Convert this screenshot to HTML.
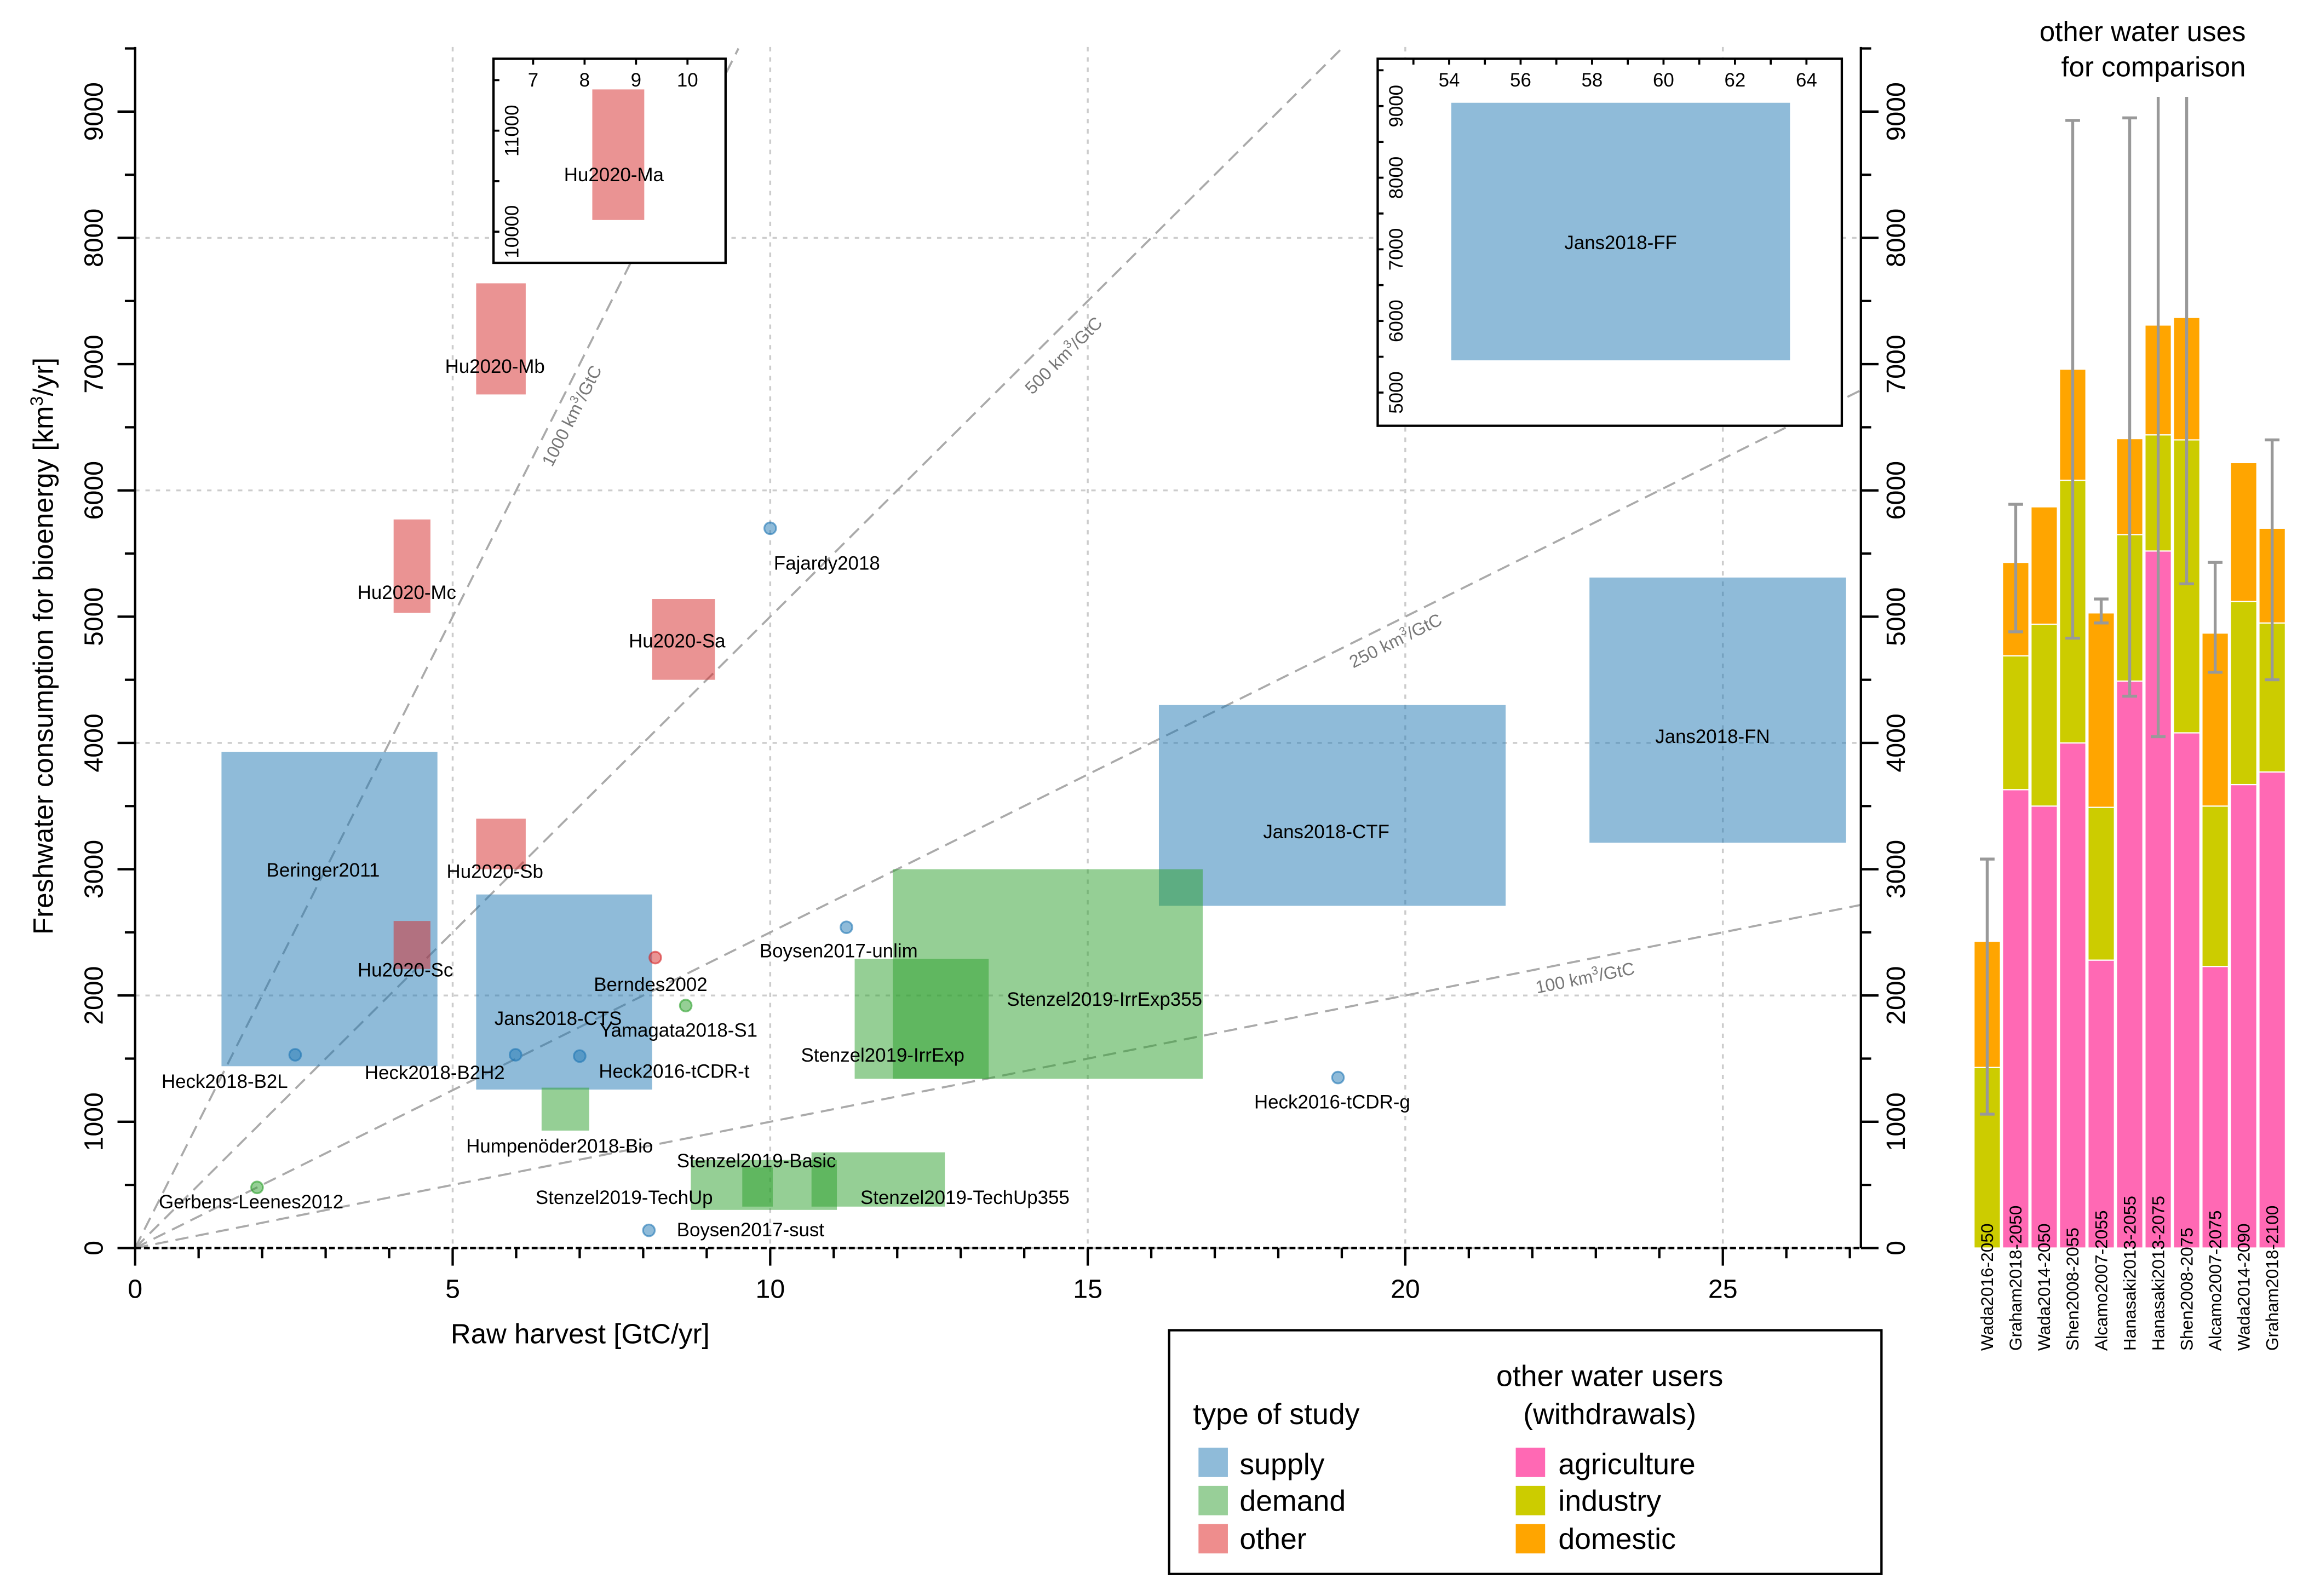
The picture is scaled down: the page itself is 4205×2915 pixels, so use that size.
<!DOCTYPE html>
<html><head><meta charset="utf-8"><style>
html,body{margin:0;padding:0;background:#fff}
svg{display:block;font-family:"Liberation Sans",sans-serif}
</style></head><body>
<svg id="fig" xmlns="http://www.w3.org/2000/svg" width="4205" height="2915" viewBox="0 0 1568 1087" preserveAspectRatio="none">
<defs>
<clipPath id="mainclip"><rect x="92" y="32" width="1175" height="818"/></clipPath>
<clipPath id="barclip"><rect x="1330" y="66" width="240" height="800"/></clipPath>
</defs>
<g id="main"></g>
<g id="bars"></g>
<g id="legend">
<rect x="796" y="906" width="485" height="166" fill="#fff" stroke="#000" stroke-width="1.6"/>
<text x="869" y="970" font-size="20" text-anchor="middle">type of study</text>
<text x="1096" y="944" font-size="20" text-anchor="middle">other water users</text>
<text x="1096" y="970" font-size="20" text-anchor="middle">(withdrawals)</text>
<g><rect x="816" y="986" width="20" height="20" fill="#8fbbd9"/><text x="844" y="1004" font-size="20">supply</text></g>
<g><rect x="816" y="1012" width="20" height="20" fill="#98cf98"/><text x="844" y="1029" font-size="20">demand</text></g>
<g><rect x="816" y="1038" width="20" height="20" fill="#ee8d8d"/><text x="844" y="1055" font-size="20">other</text></g>
<g><rect x="1032" y="986" width="20" height="20" fill="#ff69b4"/><text x="1061" y="1004" font-size="20">agriculture</text></g>
<g><rect x="1032" y="1012" width="20" height="20" fill="#cccc00"/><text x="1061" y="1029" font-size="20">industry</text></g>
<g><rect x="1032" y="1038" width="20" height="20" fill="#ffa500"/><text x="1061" y="1055" font-size="20">domestic</text></g>
</g>
</svg>
<script>
// ---------- scatter data ----------
const rectNames = ["Beringer2011","Jans2018-CTS","Jans2018-CTF","Jans2018-FN","Hu2020-Mb","Hu2020-Mc","Hu2020-Sa","Hu2020-Sb","Hu2020-Sc","Stenzel2019-IrrExp355","Stenzel2019-IrrExp","Humpenöder2018-Bio","Stenzel2019-TechUp","Stenzel2019-Basic","Stenzel2019-TechUp355"];
const rectType = ["supply","supply","supply","supply","other","other","other","other","other","demand","demand","demand","demand","demand","demand"];
const rectX0 = [1.36,5.37,16.12,22.9,5.37,4.07,8.14,5.37,4.07,11.93,11.33,6.4,8.75,9.56,10.65];
const rectX1 = [4.76,8.14,21.58,26.94,6.15,4.65,9.13,6.15,4.65,16.81,13.44,7.15,11.05,10.04,12.75];
const rectY0 = [1440,1255,2710,3210,6760,5030,4500,3000,2210,1340,1340,930,302,328,328];
const rectY1 = [3930,2800,4300,5310,7640,5770,5140,3400,2590,3000,2290,1270,697,638,758];
const rectLabelXY = [[220,597],[380,698],[903,571],[1166,506],[337,254],[277,408],[461,441],[337,598],[276,665],[752,685],[601,723],[381,785],[425,820],[515,795],[657,820]];

const ptNames = ["Fajardy2018","Boysen2017-unlim","Berndes2002","Yamagata2018-S1","Heck2018-B2L","Heck2018-B2H2","Heck2016-tCDR-t","Heck2016-tCDR-g","Gerbens-Leenes2012","Boysen2017-sust"];
const ptType = ["supply","supply","other","demand","supply","supply","supply","supply","demand","supply"];
const ptX = [10.0,11.2,8.19,8.67,2.52,5.99,7.0,18.94,1.92,8.09];
const ptY = [5700,2540,2300,1920,1530,1530,1520,1350,480,140];
const ptLabelXY = [[563,388],[571,652],[443,675],[462,706],[153,741],[296,735],[459,734],[907,755],[171,823],[511,842]];

const slopes = [1000,500,250,100];
const slopeLabelXY = [[393,285,-63],[727,245,-45],[952,440,-26.4],[1080,670,-11.2]];

const xTicks = [0,5,10,15,20,25];
const yTicks = [0,1000,2000,3000,4000,5000,6000,7000,8000,9000];

// inset data
const insetAName = "Hu2020-Ma", insetAX = [8.15,9.16], insetAY = [10116,11408];
const insetAXTicks = [7,8,9,10], insetAYTicks = [10000,11000];
const insetBName = "Jans2018-FF", insetBX = [54.06,63.54], insetBY = [5450,9046];
const insetBXTicks = [54,56,58,60,62,64], insetBYTicks = [5000,6000,7000,8000,9000];

// ---------- bar data ----------
const barNames = ["Wada2016-2050","Graham2018-2050","Wada2014-2050","Shen2008-2055","Alcamo2007-2055","Hanasaki2013-2055","Hanasaki2013-2075","Shen2008-2075","Alcamo2007-2075","Wada2014-2090","Graham2018-2100"];
const agriculture = [0,3630,3500,4000,2280,4490,5520,4080,2230,3670,3770];
const industry = [1430,1060,1440,2080,1210,1160,920,2320,1270,1450,1180];
const domestic = [1000,740,930,880,1540,760,870,970,1370,1100,750];
const errLow = [1060,4880,null,4830,4950,4370,4050,5260,4560,null,4500];
const errHigh = [3080,5890,null,8930,5140,8950,9800,9800,5430,null,6400];

// ---------- helpers ----------
const NS="http://www.w3.org/2000/svg";
function mk(tag,attrs,parent,txt){const e=document.createElementNS(NS,tag);for(const k in attrs)e.setAttribute(k,attrs[k]);if(txt!==undefined)e.textContent=txt;parent.appendChild(e);return e;}
const X=v=>92+v*43.24, Y=v=>850-v*0.086;
const fillC={supply:"#1f77b4",demand:"#2ca02c",other:"#d62728"};
const main=document.getElementById('main');
const bars=document.getElementById('bars');

// grid
const grid=mk('g',{},main);


[5,10,15,20,25].forEach(v=>mk('line',{x1:X(v),x2:X(v),y1:32,y2:850,stroke:"#ccc","stroke-width":1.3,"stroke-dasharray":"3,4"},grid));
[0,2000,4000,6000,8000].forEach(v=>mk('line',{x1:92,x2:1267,y1:Y(v),y2:Y(v),stroke:"#ccc","stroke-width":1.3,"stroke-dasharray":"3,4"},grid));

const clipG=mk('g',{"clip-path":"url(#mainclip)"},main);
// slope lines
slopes.forEach((s,i)=>{
  const xe=Math.min(28,9500/s);
  const l=mk('line',{x1:X(0),y1:Y(0),x2:X(xe),y2:Y(s*xe),stroke:"#aaa","stroke-width":1.4,"stroke-dasharray":"9,5"},clipG);
  
  
  const [lx,ly,a]=slopeLabelXY[i];
  const t=mk('text',{x:lx,y:ly,"font-size":12,fill:"#777","text-anchor":"middle",transform:`rotate(${a} ${lx} ${ly})`},main);
  t.innerHTML=s+' km<tspan dy="-5" font-size="8">3</tspan><tspan dy="5">/GtC</tspan>';
  
  
});
// rects
rectNames.forEach((n,i)=>{
  const r=mk('rect',{x:X(rectX0[i]),y:Y(rectY1[i]),width:X(rectX1[i])-X(rectX0[i]),height:Y(rectY0[i])-Y(rectY1[i]),fill:fillC[rectType[i]],"fill-opacity":0.5},clipG);
  
  
});
rectNames.forEach((n,i)=>{
  const t=mk('text',{x:rectLabelXY[i][0],y:rectLabelXY[i][1],"font-size":13,"text-anchor":"middle"},main,n);
  
  
});
// points
ptNames.forEach((n,i)=>{
  const c=mk('circle',{cx:X(ptX[i]),cy:Y(ptY[i]),r:4,fill:fillC[ptType[i]],"fill-opacity":0.5,stroke:fillC[ptType[i]],"stroke-opacity":0.6,"stroke-width":1.2},main);
  
  
  const t=mk('text',{x:ptLabelXY[i][0],y:ptLabelXY[i][1],"font-size":13,"text-anchor":"middle"},main,n);
  
  
});
// axes
const ax=mk('g',{stroke:"#000","stroke-width":1.6},main);


mk('line',{x1:92,x2:92,y1:32,y2:850},ax);
mk('line',{x1:1267,x2:1267,y1:32,y2:850},ax);
mk('line',{x1:92,x2:1267,y1:850,y2:850,"stroke-dasharray":"4,2"},ax);
for(let v=0;v<=27;v++){mk('line',{x1:X(v),x2:X(v),y1:850,y2:v%5==0?862:857},ax);}
for(let v=0;v<=9500;v+=500){
  const big=v%1000==0;
  mk('line',{x1:92,x2:big?80:85,y1:Y(v),y2:Y(v)},ax);
  mk('line',{x1:1267,x2:big?1279:1274,y1:Y(v),y2:Y(v)},ax);
}
xTicks.forEach(v=>{const t=mk('text',{x:X(v),y:884,"font-size":18,"text-anchor":"middle"},main,v);});
yTicks.forEach(v=>{
  const t=mk('text',{x:70,y:Y(v),"font-size":18,"text-anchor":"middle",transform:`rotate(-90 70 ${Y(v)})`},main,v);
  
  
  const t2=mk('text',{x:1297,y:Y(v),"font-size":18,"text-anchor":"middle",transform:`rotate(-90 1297 ${Y(v)})`},main,v);
  
  
});
let tt=mk('text',{x:395,y:915,"font-size":19,"text-anchor":"middle"},main,"Raw harvest [GtC/yr]");


tt=mk('text',{x:36,y:440,"font-size":19,"text-anchor":"middle",transform:"rotate(-90 36 440)"},main);
tt.innerHTML='Freshwater consumption for bioenergy [km<tspan dy="-7" font-size="12">3</tspan><tspan dy="7">/yr]</tspan>';



// insets
function inset(name,bx0,by0,bx1,by1,xr,yr,xt,yt,xMinorStep,yMinorStep,rx,ry,col,labelName,lblDx,lblDy){
  const g=mk('g',{},main);
  
  
  mk('rect',{x:bx0,y:by0,width:bx1-bx0,height:by1-by0,fill:"#fff"},g);
  const ix=v=>bx0+(v-xr[0])/(xr[1]-xr[0])*(bx1-bx0);
  const iy=v=>by1-(v-yr[0])/(yr[1]-yr[0])*(by1-by0);
  const r=mk('rect',{x:ix(rx[0]),y:iy(ry[1]),width:ix(rx[1])-ix(rx[0]),height:iy(ry[0])-iy(ry[1]),fill:col,"fill-opacity":0.5},g);
  
  
  mk('text',{x:(ix(rx[0])+ix(rx[1]))/2+lblDx,y:(iy(ry[0])+iy(ry[1]))/2+lblDy,"font-size":13,"text-anchor":"middle"},g,labelName);
  for(let v=Math.ceil(xr[0]/xMinorStep)*xMinorStep;v<=xr[1];v+=xMinorStep){mk('line',{x1:ix(v),x2:ix(v),y1:by0,y2:by0+4,stroke:"#000","stroke-width":1.4},g);}
  for(let v=Math.ceil(yr[0]/yMinorStep)*yMinorStep;v<=yr[1];v+=yMinorStep){mk('line',{x1:bx0,x2:bx0+4,y1:iy(v),y2:iy(v),stroke:"#000","stroke-width":1.4},g);}
  xt.forEach(v=>mk('text',{x:ix(v),y:by0+19,"font-size":13,"text-anchor":"middle"},g,v));
  yt.forEach(v=>mk('text',{x:bx0+17,y:iy(v),"font-size":13,"text-anchor":"middle",transform:`rotate(-90 ${bx0+17} ${iy(v)})`},g,v));
  mk('rect',{x:bx0,y:by0,width:bx1-bx0,height:by1-by0,fill:"none",stroke:"#000","stroke-width":1.6},g);
}
inset('inset-hu2020-ma',336,40,494,179,[6.23,10.74],[9692,11712],insetAXTicks,insetAYTicks,1,500,insetAX,insetAY,"#d62728",insetAName,-3,18);
inset('inset-jans2018-ff',938,40,1254,290,[52.0,64.99],[4536,9661],insetBXTicks,insetBYTicks,1,500,insetBX,insetBY,"#1f77b4",insetBName,0,12);

// ---------- bars ----------
const bcl=mk('g',{"clip-path":"url(#barclip)"},bars);
barNames.forEach((n,i)=>{
  const x=1344+i*19.4, w=18;
  const a=agriculture[i], b=a+industry[i], c=b+domestic[i];
  const segs=[[0,a,"#ff69b4","agriculture"],[a,b,"#cccc00","industry"],[b,c,"#ffa500","domestic"]];
  segs.forEach(s=>{
    if(s[1]<=s[0])return;
    const r=mk('rect',{x:x,y:Y(s[1]),width:w,height:Y(s[0])-Y(s[1]),fill:s[2],stroke:"#fff","stroke-width":0.8},bcl);
    
    
  });
  if(errLow[i]!==null){
    const cx=x+w/2;
    const e=mk('g',{stroke:"#999","stroke-width":2},bcl);
    
    
    mk('line',{x1:cx,x2:cx,y1:Y(errLow[i]),y2:Y(errHigh[i])},e);
    mk('line',{x1:cx-5,x2:cx+5,y1:Y(errLow[i]),y2:Y(errLow[i])},e);
    mk('line',{x1:cx-5,x2:cx+5,y1:Y(errHigh[i]),y2:Y(errHigh[i])},e);
  }
  const lx=x+w/2+4;
  const t=mk('text',{x:lx,y:920,"font-size":11.8,"text-anchor":"start",transform:`rotate(-90 ${lx} 920)`},bars,n);
  
  
});
let bt=mk('text',{x:1529,y:28,"font-size":19,"text-anchor":"end"},bars,"other water uses");


bt=mk('text',{x:1529,y:52,"font-size":19,"text-anchor":"end"},bars,"for comparison");


</script>
</body></html>
